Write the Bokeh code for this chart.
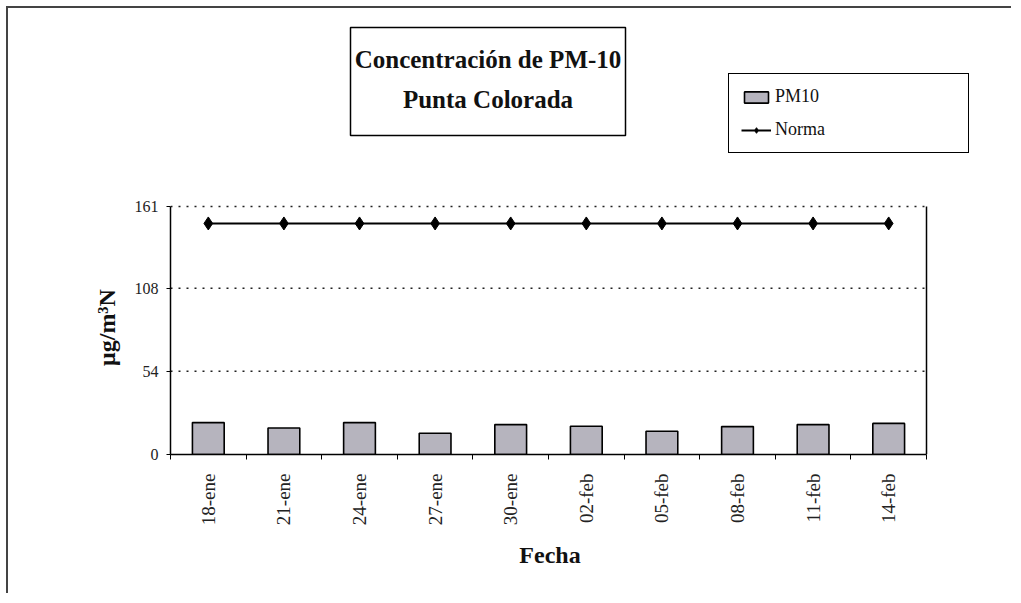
import numpy as np
from bokeh.plotting import figure
from bokeh.models import (ColumnDataSource, FixedTicker, Range1d,
                          Legend, LegendItem, Label, BoxAnnotation)
from bokeh.embed import file_html
from bokeh.resources import INLINE

# ---- data ----
fechas = ["18-ene", "21-ene", "24-ene", "27-ene", "30-ene",
          "02-feb", "05-feb", "08-feb", "11-feb", "14-feb"]
pm10 = [20.7, 17.2, 20.7, 13.8, 19.4, 18.3, 15.1, 18.1, 19.4, 20.2]
norma = [150, 150, 150, 150, 150, 150, 150, 150, 150, 150]
y_ticks = [0, 54, 108, 161]
title_line1 = "Concentración de PM-10"
title_line2 = "Punta Colorada"
x_title = "Fecha"
y_title = "μg/m³N"

FONT = "Liberation Serif"
EM = "\u2003"   # em space used to shift axis titles over the bordered plot area
EN = "\u2002"

# ---- layout geometry (pixels) ----
W, H = 1005, 587
LEFT, BOTTOM = 162, 141          # side panels
PLOT_W, PLOT_H = 756, 248        # size of the bordered plot area
frame_w = W - LEFT
frame_h = H - BOTTOM

n = len(fechas)
x = list(range(n))
x_lo, x_hi = -0.5, n - 0.5
y_top = max(y_ticks)

src = ColumnDataSource(dict(x=x, fecha=fechas, pm10=pm10, norma=norma))
grid_src = ColumnDataSource(dict(x0=[x_lo] * (len(y_ticks) - 1), x1=[x_hi] * (len(y_ticks) - 1),
                                 y=y_ticks[1:]))

p = figure(width=W, height=H, output_backend="svg", toolbar_location=None,
           x_range=Range1d(x_lo, x_lo + n * frame_w / PLOT_W),
           y_range=Range1d(0, y_top * frame_h / PLOT_H),
           min_border_left=LEFT, min_border_right=0,
           min_border_top=0, min_border_bottom=BOTTOM)
p.outline_line_color = None
p.background_fill_color = "white"
p.border_fill_color = "white"
p.styles = {"margin-left": "6px", "margin-top": "6px",
            "border-left": "2px solid #444", "border-top": "2px solid #444"}

# dotted grid lines and right border of the plot area
p.segment(x0="x0", x1="x1", y0="y", y1="y", source=grid_src,
          line_color="#222", line_dash="2 6", line_width=1.5)
p.segment(x0=[x_hi], x1=[x_hi], y0=[0], y1=[y_top],
          line_color="black", line_width=1.5)

bars = p.vbar(x="x", top="pm10", width=0.42, source=src,
              fill_color="#b6b4be", line_color="black", line_width=1.6)
ln = p.line(x="x", y="norma", source=src, line_color="black", line_width=2)
mk = p.scatter(x="x", y="norma", source=src, marker="diamond", size=13,
               fill_color="black", line_color="black")

# x axis
xa = p.xaxis[0]
xa.bounds = (x_lo, x_hi)
xa.ticker = FixedTicker(ticks=x, minor_ticks=[i - 0.5 for i in range(n + 1)])
xa.major_label_overrides = {i: f for i, f in enumerate(fechas)}
xa.major_label_orientation = np.pi / 2
xa.major_tick_line_color = None
xa.major_tick_out = 0
xa.major_tick_in = 0
xa.minor_tick_out = 5
xa.minor_tick_in = 0
xa.minor_tick_line_color = "black"
xa.axis_line_color = "black"
xa.axis_line_width = 1.5
xa.major_label_standoff = 14
xa.major_label_text_font = FONT
xa.major_label_text_font_size = "19px"
xa.major_label_text_color = "#222"
xa.axis_label = x_title + EM * 3 + EN
xa.axis_label_text_font = FONT
xa.axis_label_text_font_style = "bold"
xa.axis_label_text_font_size = "24px"
xa.axis_label_text_color = "#111"
xa.axis_label_standoff = 14

# y axis
ya = p.yaxis[0]
ya.bounds = (0, y_top)
ya.ticker = FixedTicker(ticks=y_ticks)
ya.axis_line_color = "black"
ya.axis_line_width = 1.5
ya.major_tick_out = 4
ya.major_tick_in = 0
ya.major_tick_line_color = "black"
ya.minor_tick_line_color = None
ya.major_label_standoff = 8
ya.major_label_text_font = FONT
ya.major_label_text_font_size = "16px"
ya.major_label_text_color = "#222"
ya.axis_label = y_title + EM * 8
ya.axis_label_text_font = FONT
ya.axis_label_text_font_style = "bold"
ya.axis_label_text_font_size = "24px"
ya.axis_label_text_color = "#111"
ya.axis_label_standoff = 12

p.xgrid.grid_line_color = None
p.ygrid.grid_line_color = None

# legend
legend = Legend(items=[LegendItem(label="PM10", renderers=[bars]),
                       LegendItem(label="Norma", renderers=[ln, mk])],
                location=(558, 301), border_line_color="black", border_line_width=1.5,
                border_line_alpha=1.0,
                background_fill_color="white", background_fill_alpha=1.0,
                label_text_font=FONT, label_text_font_size="18px",
                label_text_color="#111",
                padding=12, spacing=12, glyph_width=30, glyph_height=14,
                label_height=20, label_width=181, label_standoff=4, margin=0)
p.add_layout(legend)

# title box
p.add_layout(BoxAnnotation(left=180, right=455, top=427, bottom=319,
                           left_units="screen", right_units="screen",
                           top_units="screen", bottom_units="screen",
                           fill_color="white", fill_alpha=1.0,
                           line_color="black", line_alpha=1.0, line_width=1.5))
for txt, yy in ((title_line1, 395), (title_line2, 355)):
    p.add_layout(Label(x=317.5, y=yy, x_units="screen", y_units="screen", text=txt,
                       text_align="center", text_baseline="middle",
                       text_font=FONT, text_font_style="bold",
                       text_font_size="25px", text_color="#111"))

open("out.html", "w").write(file_html(p, INLINE))
